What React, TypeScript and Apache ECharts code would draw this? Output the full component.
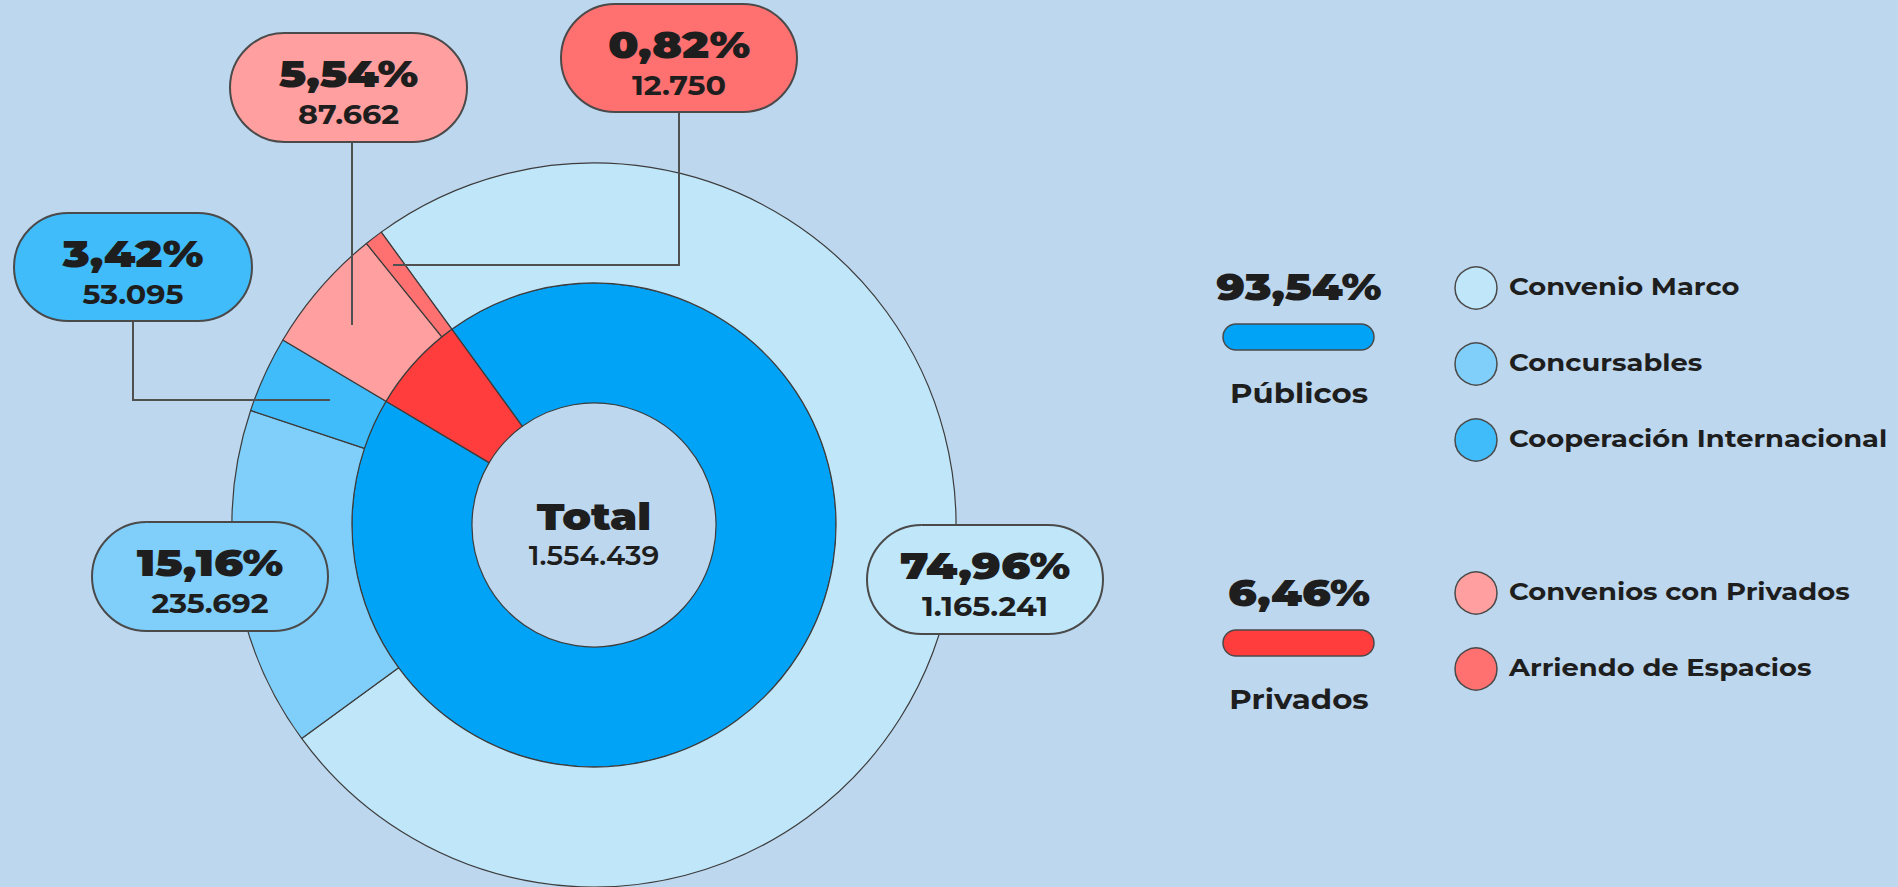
import React, { useEffect, useRef } from "react";
import * as echarts from "echarts";

// ---- data ----
const outerNames = ["Convenio Marco", "Concursables", "Cooperación Internacional", "Convenios con Privados", "Arriendo de Espacios"];
const outerValues = [1165241, 235692, 53095, 87662, 12750];
const outerPct = [74.96, 15.16, 3.42, 5.54, 0.82];
const innerNames = ["Públicos", "Privados"];
const innerPct = [93.54, 6.46];
const totalLabel = "Total";
const totalValue = 1554439;

// ---- styles / layout ----
const BG = "#BDD7EE";
const outerColors = ["#C0E6FA", "#80CFFA", "#40BCFA", "#FF9F9F", "#FF7070"];
const innerColors = ["#00A3F5", "#FF3D3D"];
const CX = 594, CY = 525, R0 = 122, R1 = 242, R2 = 362;
const FONT = "Montserrat, Inter, 'Noto Sans', sans-serif";
const TXT = "#1E1E1E";
const EDGE = "#3C3C3C";

// label boxes per outer item: [x, y, w, h]
const boxes: number[][] = [
  [867, 525, 236, 109],
  [92, 522, 236, 109],
  [14, 213, 238, 108],
  [230, 33, 237, 109],
  [561, 4, 236, 108],
];
const leaders: (number[][] | null)[] = [
  null,
  null,
  [[133, 321], [133, 400], [330, 400]],
  [[352, 142], [352, 325]],
  [[679, 112], [679, 265], [393, 265]],
];
const legendCy = [288, 364, 440, 593, 669];

const fmtNum = (v: number) => String(v).replace(/\B(?=(\d{3})+(?!\d))/g, ".");
const fmtPct = (p: number) => p.toFixed(2).replace(".", ",") + "%";

function txt(text: string, x: number, y: number, size: number, weight: number | string, align = "center", sx = 1) {
  return {
    type: "text",
    x,
    y,
    scaleX: sx,
    z: 110,
    style: {
      text,
      fill: TXT,
      fontSize: size,
      fontWeight: weight,
      fontFamily: FONT,
      align,
      verticalAlign: "middle",
      textAlign: align,
      textVerticalAlign: "middle",
    },
  };
}

export default function App() {
  const ref = useRef<HTMLDivElement>(null);
  useEffect(() => {
    if (!ref.current) return;
    const chart = echarts.init(ref.current, undefined, { renderer: "svg" });
    const graphics: any[] = [];

    // leader lines
    leaders.forEach((pts) => {
      if (!pts) return;
      graphics.push({
        type: "polyline",
        z: 100,
        shape: { points: pts },
        style: { stroke: "#505050", lineWidth: 2, fill: null },
      });
    });
    // label boxes
    boxes.forEach((b, i) => {
      const [x, y, w, h] = b;
      graphics.push({
        type: "rect",
        z: 105,
        shape: { x, y, width: w, height: h, r: h / 2 },
        style: { fill: outerColors[i], stroke: "#4A4A4A", lineWidth: 2 },
      });
      graphics.push(txt(fmtPct(outerPct[i]), x + w / 2, y + 40, 37, 900, "center", 1.2));
      graphics.push(txt(fmtNum(outerValues[i]), x + w / 2, y + 81, 27, 700, "center", 1.12));
    });
    // center text
    graphics.push(txt(totalLabel, CX, 516, 38, 900, "center", 1.12));
    graphics.push(txt(fmtNum(totalValue), CX, 555, 27, 600, "center", 1.05));

    // group legend (left)
    const groupY = [[287, 337, 393], [593, 643, 699]];
    innerNames.forEach((n, i) => {
      const [py, by, ly] = groupY[i];
      graphics.push(txt(fmtPct(innerPct[i]), 1299, py, 37, 900, "center", 1.18));
      graphics.push({
        type: "rect",
        z: 105,
        shape: { x: 1223, y: by - 13, width: 151, height: 26, r: 13 },
        style: { fill: innerColors[i], stroke: "#4A4A4A", lineWidth: 1.5 },
      });
      graphics.push(txt(n, 1299, ly, 28, 700, "center", 1.1));
    });
    // item legend (right)
    outerNames.forEach((n, i) => {
      graphics.push({
        type: "circle",
        z: 105,
        shape: { cx: 1476, cy: legendCy[i], r: 21 },
        style: { fill: outerColors[i], stroke: "#4A4A4A", lineWidth: 1.5 },
      });
      graphics.push(txt(n, 1509, legendCy[i] - 1, 23, 700, "left", 1.19));
    });

    chart.setOption({
      animation: false,
      backgroundColor: BG,
      series: [
        {
          type: "pie",
          center: [CX, CY],
          radius: [R0, R1],
          startAngle: 126,
          clockwise: true,
          label: { show: false },
          labelLine: { show: false },
          silent: true,
          itemStyle: { borderColor: EDGE, borderWidth: 1.2 },
          data: innerNames.map((n, i) => ({ name: n, value: innerPct[i], itemStyle: { color: innerColors[i] } })),
        },
        {
          type: "pie",
          center: [CX, CY],
          radius: [R1, R2],
          startAngle: 126,
          clockwise: true,
          label: { show: false },
          labelLine: { show: false },
          silent: true,
          itemStyle: { borderColor: EDGE, borderWidth: 1.2 },
          data: outerNames.map((n, i) => ({ name: n, value: outerValues[i], itemStyle: { color: outerColors[i] } })),
        },
      ],
      graphic: { elements: graphics },
    });
    return () => chart.dispose();
  }, []);
  return (
    <div
      ref={ref}
      style={{ position: "fixed", left: 0, top: 0, width: 1898, height: 887, background: BG }}
    />
  );
}
